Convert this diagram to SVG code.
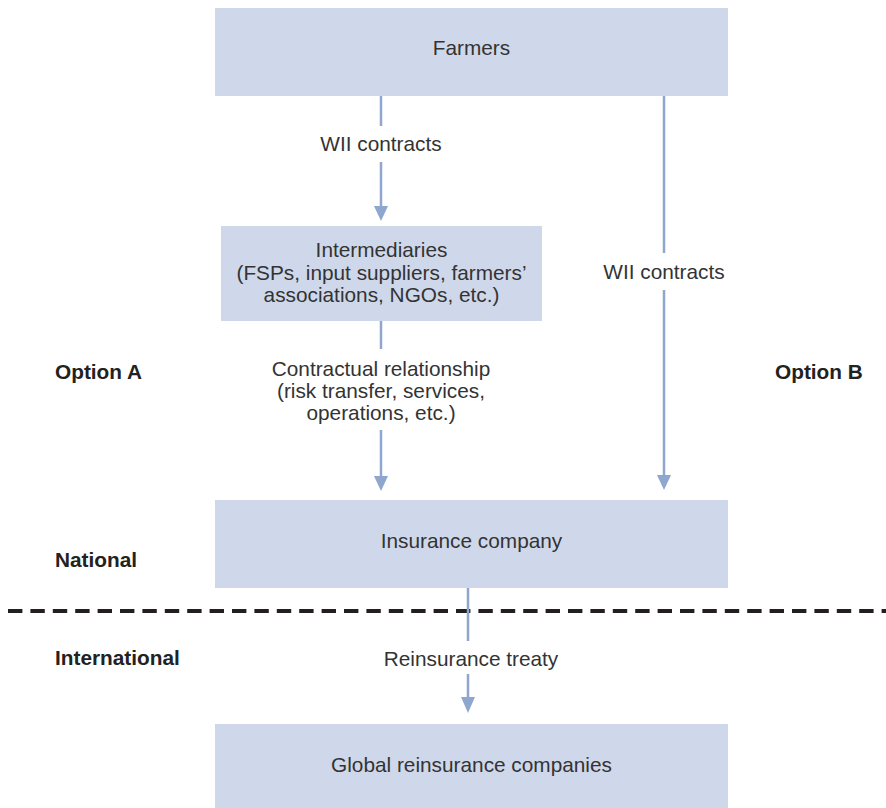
<svg xmlns="http://www.w3.org/2000/svg" width="886" height="808" viewBox="0 0 886 808">
<defs>
<style>
.box{fill:#cfd8ea}
.t{font-family:"Liberation Sans",Arial,sans-serif;font-size:20.8px;fill:#333;text-anchor:middle}
.b{font-family:"Liberation Sans",Arial,sans-serif;font-size:20.8px;font-weight:bold;fill:#222}
.ln{stroke:#8fa7cf;stroke-width:2.5;fill:none}
.ah{fill:#8fa7cf}
</style>
</defs>
<rect width="886" height="808" fill="#fff"/>
<g id="farmers"><rect class="box" x="215" y="8" width="513" height="88"/><text class="t" x="471.5" y="55">Farmers</text></g>
<g id="intermediaries"><rect class="box" x="221" y="226" width="321" height="95"/>
<text class="t" x="381.5" y="257">Intermediaries</text>
<text class="t" x="381.5" y="279.5">(FSPs, input suppliers, farmers’</text>
<text class="t" x="381.5" y="302">associations, NGOs, etc.)</text></g>
<g id="insurance"><rect class="box" x="215" y="500" width="513" height="88"/><text class="t" x="471.5" y="548">Insurance company</text></g>
<g id="reinsurance"><rect class="box" x="215" y="724" width="513" height="84"/><text class="t" x="471.5" y="772">Global reinsurance companies</text></g>
<g id="labels">
<text class="b" x="55" y="379">Option A</text>
<text class="b" x="775" y="379">Option B</text>
<text class="b" x="55" y="567">National</text>
<text class="b" x="55" y="665">International</text>
</g>
<line id="divider" x1="8" y1="611" x2="886" y2="611" stroke="#231f20" stroke-width="4" stroke-dasharray="14.4 8"/>
<g id="connectors">
<path class="ln" d="M381,96 V126"/>
<path class="ln" d="M381,162 V207"/>
<path class="ah" d="M374,206 L388,206 L381,221 Z"/>
<text class="t" x="381" y="151">WII contracts</text>
<path class="ln" d="M664,96 V253"/>
<path class="ln" d="M664,290 V476"/>
<path class="ah" d="M657,475 L671,475 L664,490 Z"/>
<text class="t" x="664" y="279">WII contracts</text>
<path class="ln" d="M381,321 V349"/>
<path class="ln" d="M381,430 V477"/>
<path class="ah" d="M374,476 L388,476 L381,491 Z"/>
<text class="t" x="381" y="376">Contractual relationship</text>
<text class="t" x="381" y="398">(risk transfer, services,</text>
<text class="t" x="381" y="420">operations, etc.)</text>
<path class="ln" d="M468,588 V641"/>
<path class="ln" d="M468,674 V698"/>
<path class="ah" d="M461,697 L475,697 L468,713 Z"/>
<text class="t" x="471" y="666">Reinsurance treaty</text>
</g>
</svg>
